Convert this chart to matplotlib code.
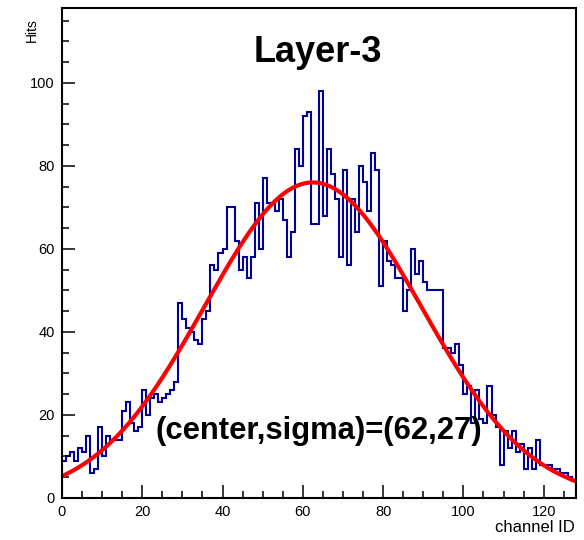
"""Render the Layer-3 hits-per-channel histogram with its Gaussian fit."""

import matplotlib

matplotlib.use("Agg")  # headless

import matplotlib.pyplot as plt  # noqa: E402
import numpy as np  # noqa: E402
from matplotlib.ticker import MultipleLocator  # noqa: E402

# hits per channel, one bin per channel ID (0..127)
hits = [
    9, 10, 11, 9, 12, 11, 15, 6, 7, 17,
    10, 15, 14, 14, 14, 21, 23, 18, 16, 17,
    26, 20, 24, 25, 23, 24, 25, 26, 28, 47,
    43, 41, 40, 38, 37, 43, 45, 56, 55, 59,
    60, 70, 70, 62, 55, 58, 53, 58, 71, 60,
    77, 71, 71, 69, 72, 67, 58, 64, 84, 80,
    92, 93, 66, 66, 98, 68, 84, 78, 72, 58,
    79, 56, 72, 64, 80, 76, 69, 83, 79, 51,
    62, 57, 56, 53, 53, 45, 50, 60, 54, 57,
    52, 50, 50, 50, 50, 36, 36, 35, 37, 32,
    25, 27, 18, 26, 19, 18, 27, 20, 17, 8,
    16, 12, 16, 11, 13, 7, 12, 7, 14, 8,
    8, 8, 7, 7, 6, 6, 5, 4,
]

# gaussian fit result
fit_amplitude = 76.0
fit_center = 62.5
fit_sigma = 27.0
fit_label = "(center,sigma)=(62,27)"

x_ticks = [0, 20, 40, 60, 80, 100, 120]
y_ticks = [0, 20, 40, 60, 80, 100]
y_top = 118

plt.rcParams["font.family"] = ["Liberation Sans", "DejaVu Sans"]

fig = plt.figure(figsize=(5.84, 5.40), dpi=100)
ax = fig.add_axes([0.106, 0.078, 0.880, 0.907])

edges = np.arange(len(hits) + 1)
ax.stairs(hits, edges, color="#000099", linewidth=1.5)

xs = np.linspace(edges[0], edges[-1], 500)
ax.plot(xs, fit_amplitude * np.exp(-0.5 * ((xs - fit_center) / fit_sigma) ** 2),
        color="#ff0000", linewidth=3.0)

ax.set_xlim(edges[0], edges[-1])
ax.set_ylim(0, y_top)
ax.set_xticks(x_ticks)
ax.set_yticks(y_ticks)
ax.xaxis.set_minor_locator(MultipleLocator(5))
ax.yaxis.set_minor_locator(MultipleLocator(5))
ax.tick_params(which="both", direction="in", top=False, right=False,
               width=1.1, labelsize=10.5, colors="black")
ax.tick_params(which="major", length=9.5, pad=5)
ax.tick_params(which="minor", length=4.7)
for spine in ax.spines.values():
    spine.set_linewidth(1.5)

ax.text(64, 14.2, fit_label, ha="center", va="baseline",
        fontsize=22.3, fontweight="bold")

fig.text(0.545, 0.885, "Layer-3", ha="center", va="baseline",
         fontsize=26, fontweight="bold")
fig.text(0.055, 0.967, "Hits", rotation=90, ha="center", va="top", fontsize=10)
fig.text(0.985, 0.010, "channel ID", ha="right", va="bottom", fontsize=12)

fig.savefig("out.png", dpi=100)
plt.close(fig)
